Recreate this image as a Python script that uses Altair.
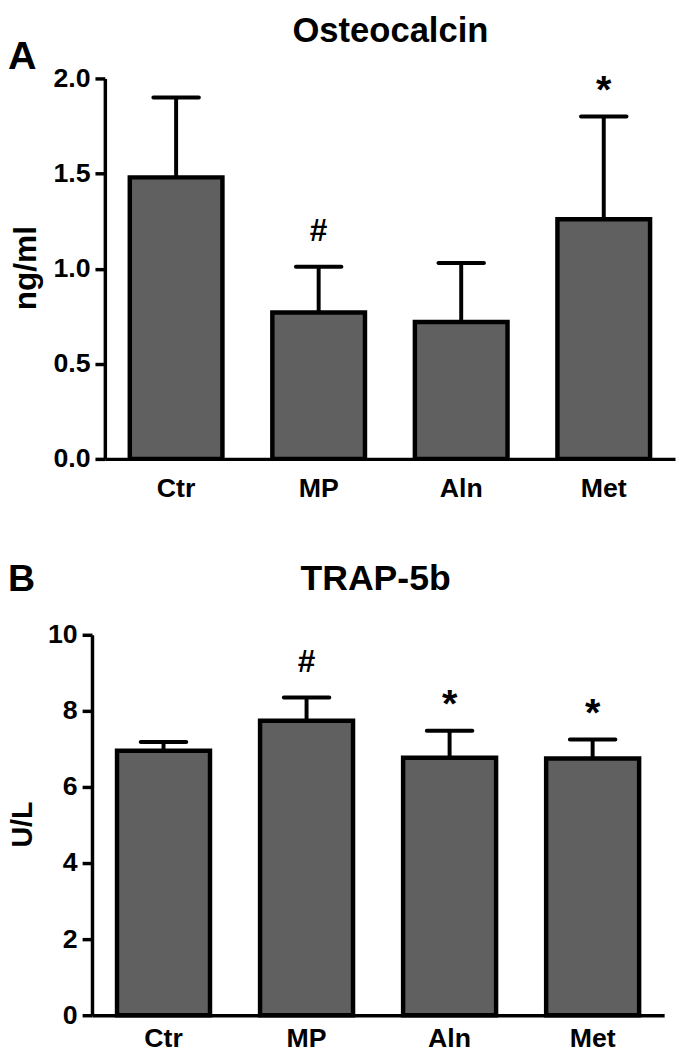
import altair as alt
import pandas as pd

groups = ["Ctr", "MP", "Aln", "Met"]

osteo_mean = [1.48, 0.77, 0.72, 1.26]
osteo_upper = [1.90, 1.01, 1.03, 1.80]
osteo_sig = ["", "#", "", "*"]

trap_mean = [6.95, 7.74, 6.77, 6.75]
trap_upper = [7.18, 8.35, 7.48, 7.25]
trap_sig = ["", "#", "*", "*"]

osteo_ticks = [0, 0.5, 1.0, 1.5, 2.0]
trap_ticks = [0, 2, 4, 6, 8, 10]

FONT = "Liberation Sans"


def text_label(txt, xv, yv, size, angle=0, align="center", baseline="alphabetic"):
    return alt.Chart(pd.DataFrame({"t": [txt]})).mark_text(
        font=FONT, fontSize=size, fontWeight="bold", color="black",
        align=align, baseline=baseline, angle=angle
    ).encode(text="t:N", x=alt.value(xv), y=alt.value(yv))


def panel(mean, upper, sig, domain, tvals, fmt, width, height, shift, xpad,
          title, title_xy, title_size, letter, letter_xy, letter_size,
          ytitle, ytitle_xy, ytitle_size):
    df = pd.DataFrame({"group": groups, "mean": mean, "upper": upper, "sig": sig})
    x = alt.X("group:N", sort=groups,
              scale=alt.Scale(paddingInner=0.35, paddingOuter=0.175,
                              range=[-shift, width]),
              axis=alt.Axis(title=None, labelAngle=0, ticks=False, tickSize=0,
                            labelPadding=xpad, labelFont=FONT, labelFontSize=27,
                            labelFontWeight="bold", labelColor="black",
                            domainColor="black", domainWidth=3.5))
    y = alt.Y("mean:Q", scale=alt.Scale(domain=domain, nice=False, zero=True),
              axis=alt.Axis(title=None, values=tvals, format=fmt, grid=False,
                            offset=shift,
                            tickSize=10, tickWidth=3.5, tickColor="black",
                            domainColor="black", domainWidth=3.5, labelPadding=5,
                            labelFont=FONT, labelFontSize=27, labelFontWeight="bold",
                            labelColor="black"))
    base = alt.Chart(df)
    bars = base.mark_bar(color="#606060", stroke="black", strokeWidth=4.5).encode(x=x, y=y)
    rule = base.mark_rule(color="black", strokeWidth=4).encode(x=x, y=y, y2="upper:Q")
    cap = base.mark_tick(color="black", size=50, thickness=4, opacity=1,
                         cornerRadius=2).encode(x=x, y=alt.Y("upper:Q"))
    hashes = base.transform_filter(alt.datum.sig == "#").mark_text(
        text="#", font=FONT, fontSize=32, fontWeight="bold", color="black",
        dy=-26, baseline="alphabetic").encode(x=x, y=alt.Y("upper:Q"))
    stars = base.transform_filter(alt.datum.sig == "*").mark_text(
        text="*", font=FONT, fontSize=40, fontWeight="bold", color="black",
        dy=-14, baseline="alphabetic").encode(x=x, y=alt.Y("upper:Q"))
    t = text_label(title, title_xy[0], title_xy[1], title_size)
    l = text_label(letter, letter_xy[0], letter_xy[1], letter_size, align="left")
    yt = text_label(ytitle, ytitle_xy[0], ytitle_xy[1], ytitle_size, angle=270,
                    baseline="middle")
    return alt.layer(bars, rule, cap, hashes, stars, t, l, yt).properties(
        width=width, height=height)


pA = panel(osteo_mean, osteo_upper, osteo_sig, [0, 2], osteo_ticks, ".1f", 577, 385, 0, 17,
           "Osteocalcin", (289, -37), 35, "A", (-98, -10), 40,
           "ng/ml", (-80, 192), 32)
pB = panel(trap_mean, trap_upper, trap_sig, [0, 10], trap_ticks, "d", 566, 385, 13, 11,
           "TRAP-5b", (274, -45), 36, "B", (-98, -44), 38,
           "U/L", (-83, 192), 29)

chart = alt.concat(pA, pB, columns=1, spacing=61, bounds="full").properties(
    padding={"left": 0, "top": 0, "right": 0, "bottom": 0}
).configure_view(stroke=None)

chart.save("out.html", embed_options={"renderer": "svg", "actions": False})
